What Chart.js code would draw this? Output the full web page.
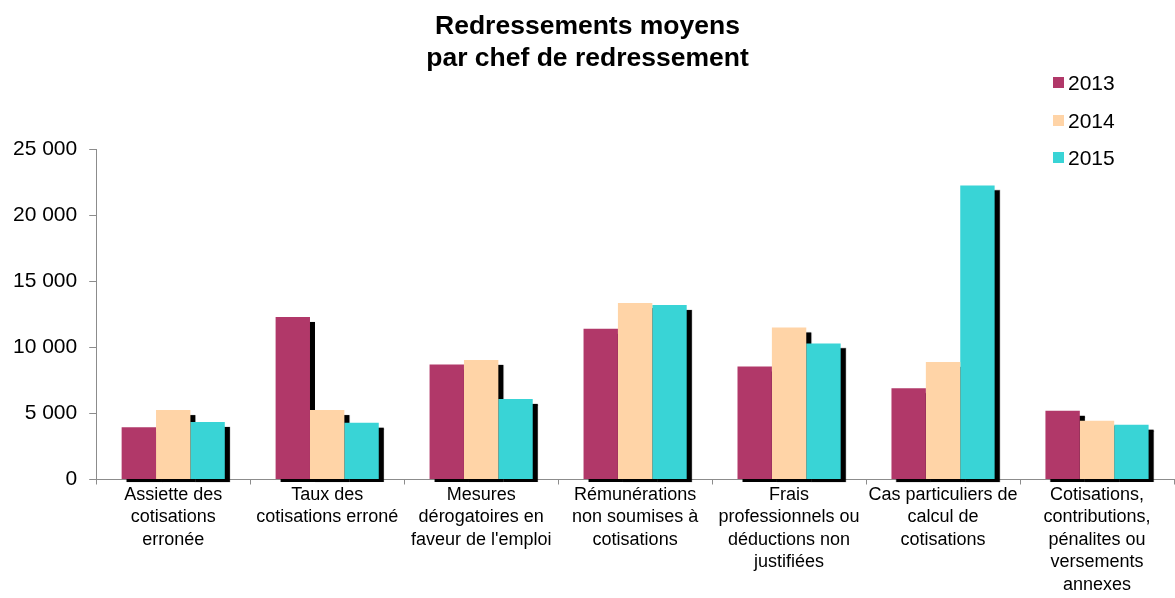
<!DOCTYPE html>
<html lang="fr">
<head>
<meta charset="UTF-8">
<title>Redressements moyens par chef de redressement</title>
<style>
  html, body { margin: 0; padding: 0; background: #fff; }
  body { font-family: "Liberation Sans", Arial, sans-serif; }
  #wrap { position: relative; width: 1175px; height: 598px; }
  #legend { position: absolute; left: 1053px; top: 70px; }
  .item { height: 37.5px; display: flex; align-items: flex-start; font-size: 21px; color: #000; line-height: 26px; }
  .swatch { width: 11px; height: 11px; margin-top: 7px; margin-right: 4px; }
</style>
<script src="https://cdn.jsdelivr.net/npm/chart.js"></script>
</head>
<body>
<div id="wrap">
  <canvas id="chart" width="1175" height="598"></canvas>
  <div id="legend"></div>
</div>
<script>
// catégories (libellés sur plusieurs lignes)
const categories = [
  ['Assiette des', 'cotisations', 'erronée'],
  ['Taux des', 'cotisations erroné'],
  ['Mesures', 'dérogatoires en', "faveur de l'emploi"],
  ['Rémunérations', 'non soumises à', 'cotisations'],
  ['Frais', 'professionnels ou', 'déductions non', 'justifiées'],
  ['Cas particuliers de', 'calcul de', 'cotisations'],
  ['Cotisations,', 'contributions,', 'pénalites ou', 'versements', 'annexes']
];
const years = ['2013', '2014', '2015'];
const values2013 = [3950, 12300, 8700, 11400, 8550, 6900, 5200];
const values2014 = [5250, 5250, 9050, 13350, 11500, 8900, 4450];
const values2015 = [4350, 4300, 6100, 13200, 10300, 22250, 4150];
const colors = ['#B13869', '#FFD4A7', '#39D4D6'];

const FONT = '"Liberation Sans", Arial, sans-serif';

// ombre noire décalée, peinte sous toutes les barres
const barShadow = {
  id: 'barShadow',
  beforeDatasetsDraw(chart) {
    const ctx = chart.ctx;
    ctx.save();
    ctx.fillStyle = '#000';
    ctx.shadowColor = 'rgba(0,0,0,0.5)';
    ctx.shadowBlur = 1;
    chart.data.datasets.forEach((ds, i) => {
      chart.getDatasetMeta(i).data.forEach(bar => {
        const p = bar.getProps(['x', 'y', 'base', 'width'], true);
        ctx.fillRect(p.x - p.width / 2 + 5, p.y + 5, p.width, p.base - p.y - 2);
      });
    });
    ctx.restore();
  }
};

function fmt(v) {
  return String(v).replace(/\B(?=(\d{3})+(?!\d))/g, ' ');
}

const series = [values2013, values2014, values2015];

new Chart(document.getElementById('chart'), {
  type: 'bar',
  data: {
    labels: categories,
    datasets: series.map((vals, i) => ({
      label: years[i],
      data: vals,
      backgroundColor: colors[i],
      borderWidth: 0,
      categoryPercentage: 0.67,
      barPercentage: 1.0
    }))
  },
  options: {
    responsive: false,
    animation: false,
    layout: { padding: { left: 1, right: 1, bottom: 3 } },
    plugins: {
      legend: { display: false },
      tooltip: { enabled: false },
      title: {
        display: true,
        text: ['Redressements moyens', 'par chef de redressement'],
        color: '#000',
        font: { family: FONT, size: 26.5, weight: 'bold', lineHeight: 1.21 },
        padding: { top: 11, bottom: 74 }
      }
    },
    scales: {
      x: {
        grid: { drawOnChartArea: false, offset: true, color: '#8c8c8c', tickLength: 5 },
        border: { color: '#8c8c8c' },
        ticks: {
          color: '#000',
          maxRotation: 0,
          autoSkip: false,
          padding: -1,
          font: { family: FONT, size: 18, lineHeight: 1.25 }
        }
      },
      y: {
        min: 0,
        max: 25000,
        grid: { drawOnChartArea: false, color: '#8c8c8c', tickLength: 7 },
        border: { color: '#8c8c8c' },
        ticks: {
          stepSize: 5000,
          color: '#000',
          padding: 12,
          font: { family: FONT, size: 21 },
          callback: v => fmt(v)
        }
      }
    }
  },
  plugins: [barShadow]
});

// légende
const legend = document.getElementById('legend');
years.forEach((y, i) => {
  const item = document.createElement('div');
  item.className = 'item';
  const sw = document.createElement('span');
  sw.className = 'swatch';
  sw.style.background = colors[i];
  const txt = document.createElement('span');
  txt.textContent = y;
  item.appendChild(sw);
  item.appendChild(txt);
  legend.appendChild(item);
});
</script>
</body>
</html>
